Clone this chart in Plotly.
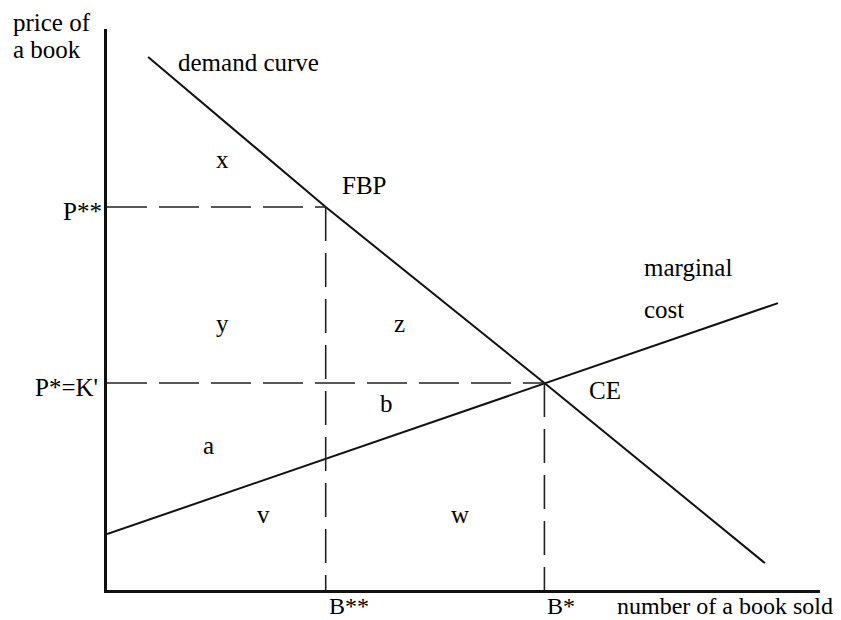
import plotly.graph_objects as go

# demand curve and marginal cost (quantity, price)
demand_q = [0.94, 5, 10, 15.04]
demand_p = [25.75, 18.5, 10, 1.3]
mc_q = [0, 10, 15.34]
mc_p = [2.7, 10, 13.86]

# the two equilibria
b_star2, p_star2 = 5, 18.5   # B**, P**  (FBP)
b_star, p_star = 10, 10      # B*, P*=K' (CE)

x_ticks = [b_star2, b_star]
x_ticktext = ["B**", "B*"]
y_ticks = [p_star2, p_star]
y_ticktext = ["P**", "P*=K'"]

area_labels = ["x", "y", "z", "a", "b", "v", "w"]
area_q = [2.63, 2.63, 6.68, 2.31, 6.40, 3.57, 8.07]
area_p = [20.82, 12.85, 12.85, 7.0, 8.99, 3.67, 3.67]

FONT = dict(family="Liberation Serif", size=25, color="#000")
FONT_LOW = dict(family="Liberation Serif", size=24, color="#000")
DASH_H = "40px,12px"
DASH_V = "34px,12px"

fig = go.Figure()

fig.add_trace(go.Scatter(x=demand_q, y=demand_p, mode="lines",
                         line=dict(color="#111", width=2), cliponaxis=False))
fig.add_trace(go.Scatter(x=mc_q, y=mc_p, mode="lines",
                         line=dict(color="#111", width=2), cliponaxis=False))

# dashed guides
for bq, pp in zip(x_ticks, y_ticks):
    fig.add_trace(go.Scatter(x=[0, bq], y=[pp, pp], mode="lines",
                             line=dict(color="#222", width=1.6, dash=DASH_H)))
    fig.add_trace(go.Scatter(x=[bq, bq], y=[pp, 0], mode="lines",
                             line=dict(color="#222", width=1.6, dash=DASH_V)))

ann = []


def label(text, x, y, anchor="center", xshift=0, yshift=0, xref="x", yref="y",
          font=FONT):
    ann.append(dict(text=text, x=x, y=y, xref=xref, yref=yref, showarrow=False,
                    xanchor=anchor, yanchor="middle", xshift=xshift,
                    yshift=yshift, font=font))


# axis title sits left of the plot area, so place it on the paper
label("price of", -0.1345, 1.0107, "left", xref="paper", yref="paper")
label("a book", -0.1345, 0.9643, "left", xref="paper", yref="paper")
label("demand curve", 1.58, 25.46, "left")
label("FBP", 5.33, 19.52, "left")
label("marginal", 12.23, 15.6, "left")
label("cost", 12.23, 13.57, "left")
label("CE", 10.97, 9.66, "left")
label("number of a book sold", 11.61, 0, "left", yshift=-16, font=FONT_LOW)

for t, q, p in zip(area_labels, area_q, area_p):
    label(t, q, p)

# tick labels
label(y_ticktext[0], 0, y_ticks[0], "right", xshift=-3, yshift=-4)
label(y_ticktext[1], 0, y_ticks[1], "right", xshift=-7, yshift=-5)
for t, q in zip(x_ticktext, x_ticks):
    label(t, q, 0, "left", xshift=1, yshift=-16, font=FONT_LOW)

fig.update_layout(
    width=841, height=620,
    margin=dict(l=107, r=21, t=29, b=30),
    paper_bgcolor="white", plot_bgcolor="white",
    showlegend=False,
    annotations=ann,
)
fig.update_xaxes(range=[0, 16.3], showline=True, linecolor="#111", linewidth=3,
                 showgrid=False, zeroline=False, showticklabels=False, ticks="")
fig.update_yaxes(range=[0, 27.1], showline=True, linecolor="#111", linewidth=3,
                 showgrid=False, zeroline=False, showticklabels=False, ticks="")

fig.write_html("out.html", config={"displayModeBar": False},
               post_script="document.body.style.margin='0';"
                           "document.body.style.overflow='hidden';")
